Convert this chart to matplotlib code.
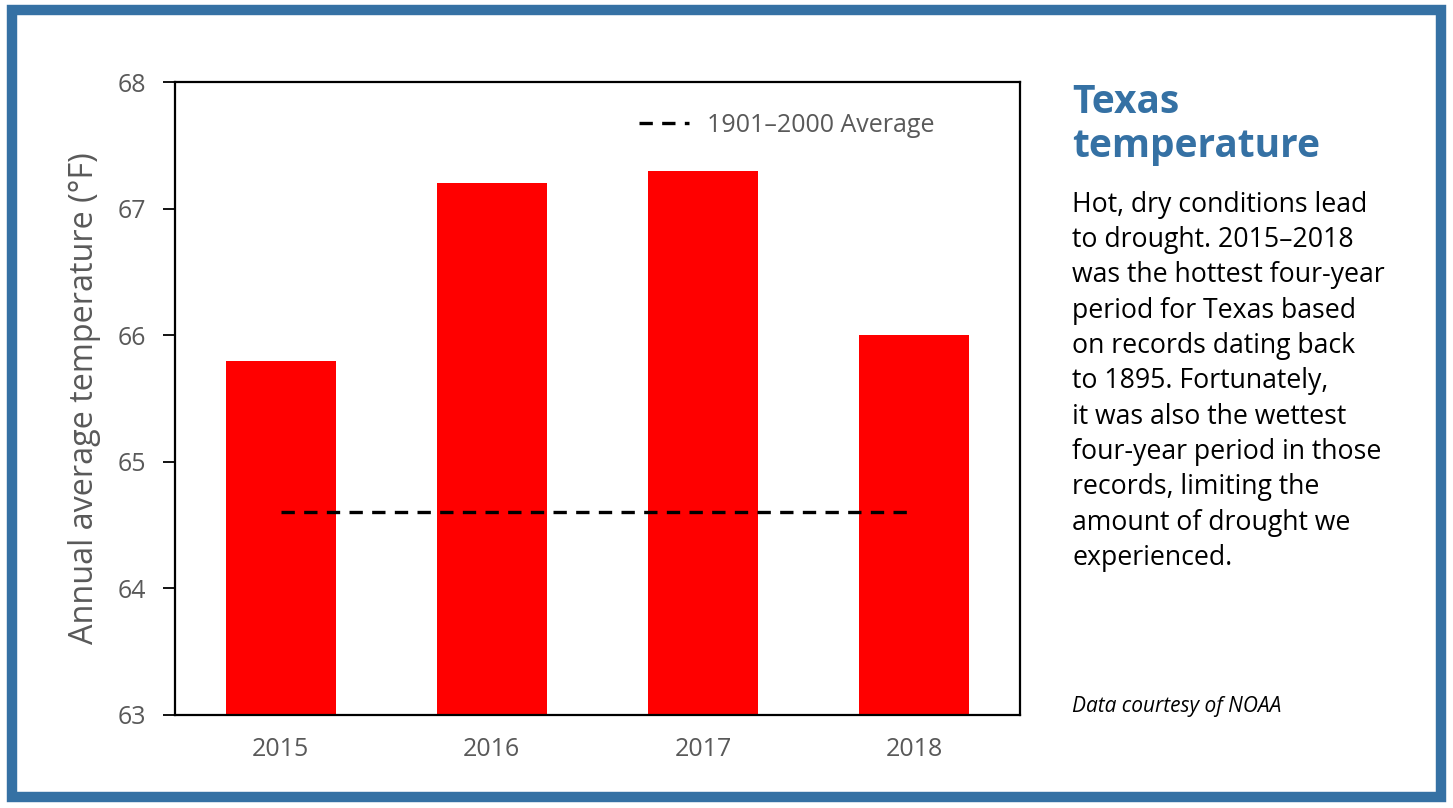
import matplotlib.pyplot as plt
from matplotlib.patches import Rectangle

years = ["2015", "2016", "2017", "2018"]
temps = [65.8, 67.2, 67.3, 66.0]
average_1901_2000 = 64.6

BLUE = "#3571a4"
GRAY = "#595959"
FONT = ["Open Sans", "DejaVu Sans"]

plt.rcParams["font.family"] = FONT

fig = plt.figure(figsize=(14.53, 8.08), dpi=100)
ax = fig.add_axes([0.1204, 0.1151, 0.5816, 0.7834])

x = list(range(len(years)))
ax.bar(x, temps, width=0.52, color="#ff0000", zorder=2)
ax.plot([x[0], x[-1]], [average_1901_2000] * 2, color="black", lw=2.4,
        dashes=(4, 2.8), label="1901\u20132000 Average", zorder=3)

ax.set_ylim(63, 68)
ax.set_xlim(-0.5, 3.5)
ax.set_yticks(range(63, 69))
ax.set_xticks(x)
ax.set_xticklabels(years)
ax.tick_params(axis="x", length=0, pad=16, labelsize=18, labelcolor=GRAY)
ax.tick_params(axis="y", direction="out", length=9, width=1.3, pad=12,
               labelsize=18, labelcolor=GRAY)
for s in ax.spines.values():
    s.set_linewidth(1.6)
ax.set_ylabel("Annual average temperature (\u00b0F)", fontsize=23.3,
              color=GRAY, labelpad=12)

leg = ax.legend(loc="upper right", bbox_to_anchor=(0.925, 0.987), frameon=False,
                fontsize=18, handlelength=2.0, handletextpad=0.7)
for t in leg.get_texts():
    t.set_color(GRAY)

fig.text(0.7378, 0.795, "Texas\ntemperature", fontsize=28, fontweight="bold",
         color=BLUE, va="bottom", ha="left", linespacing=1.15)
body = ("Hot, dry conditions lead\n"
        "to drought. 2015\u20132018\n"
        "was the hottest four-year\n"
        "period for Texas based\n"
        "on records dating back\n"
        "to 1895. Fortunately,\n"
        "it was also the wettest\n"
        "four-year period in those\n"
        "records, limiting the\n"
        "amount of drought we\n"
        "experienced.")
fig.text(0.7378, 0.764, body, fontsize=19.2, color="black", va="top",
         ha="left", linespacing=1.35)
fig.text(0.7378, 0.126, "Data courtesy of NOAA", fontsize=15,
         style="italic", color="black", va="center", ha="left")

fig.patches.append(Rectangle((12 / 1453, 11 / 808), 1 - 24 / 1453, 1 - 21 / 808,
                             transform=fig.transFigure, fill=False,
                             edgecolor=BLUE, linewidth=7.5))

fig.savefig("out.png", dpi=100)
